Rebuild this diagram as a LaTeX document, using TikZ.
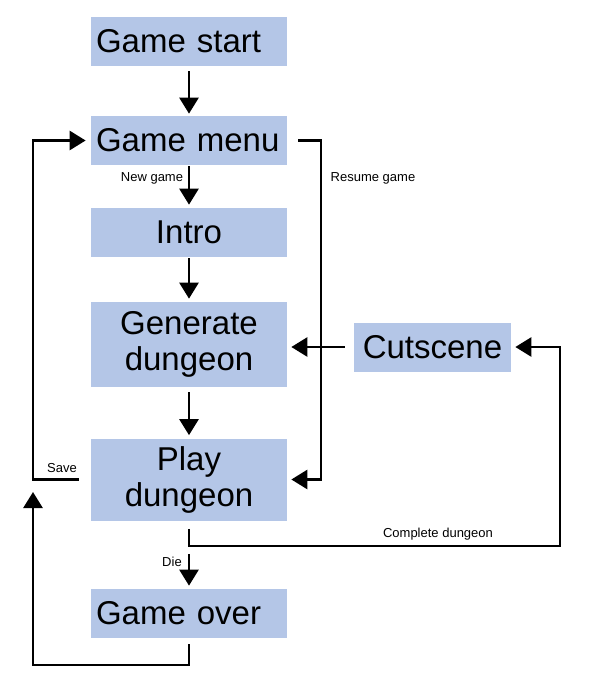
\documentclass[tikz,border=0pt]{standalone}
\usepackage{fontspec}
\setmainfont{Liberation Sans}
\usetikzlibrary{arrows.meta}
\definecolor{boxblue}{RGB}{180,198,231}
\begin{document}
\begin{tikzpicture}[x=1pt,y=-1pt,%
% common options for the boxes:
stage/.style = {fill=boxblue, align=center, minimum width=196pt,
            minimum height=49pt, inner sep=0, font=\fontsize{33}{36}\selectfont},
% boxes whose text starts at the left:
leftstage/.style = {stage, align=left, text width=186pt},
% common options for the small labels:
lbl/.style = {inner sep=0, font=\fontsize{13}{15}\selectfont},
>={Triangle[length=16pt,width=19pt]}, line width=2.7pt]
\useasboundingbox (0,0) rectangle (598,685);
\node[leftstage] (start) at (189,41.5) {Game start};
\node[leftstage] (menu) at (189,140.5) {Game menu};
\node[stage] (intro) at (189,232.5) {Intro};
\node[stage, minimum height=85pt] (gen) at (189,344.5) {Generate\\dungeon};
\node[stage, minimum height=82pt] (play) at (189,479.5) {Play\\dungeon};
\node[leftstage] (over) at (189,613.5) {Game over};
\node[stage, minimum width=157pt] (cut) at (432.5,347) {Cutscene};
\node[lbl] (newgame) at (152,178) {New game};
\node[lbl] (resume) at (373,178) {Resume game};
\node[lbl] (save) at (62,468) {Save};
\node[lbl] (complete) at (438,534) {Complete dungeon};
\node[lbl] (die) at (172,562) {Die};
% rails for the loops:
\coordinate (leftrail) at (33,0);
\coordinate (rightrail) at (321,0);
\coordinate (bend) at (560,546);
\coordinate (corner) at (33,665);
\coordinate (saveup) at (33,492);
\draw[->, shorten <=4pt, shorten >=1pt] (start) -- (menu);
\draw[->, shorten >=2pt] (menu) -- (intro);
\draw[->, shorten >=2pt] (intro) -- (gen);
\draw[->, shorten <=4pt, shorten >=2pt] (gen) -- (play);
\draw[->] ([xshift=-11pt]play.west) -| (leftrail |- menu.west) -- ([xshift=-4pt]menu.west);
\draw[->] ([xshift=10pt]menu.east) -| (rightrail |- play.east) -- ([xshift=3pt]play.east);
\draw[->] ([xshift=-8pt]cut.west) -- ([xshift=3pt]cut.west -| gen.east);
\draw[->] ([yshift=-7pt]play.south) |- (bend) |- ([xshift=3pt]cut.east);
\draw[->] ([yshift=-32pt]play.south) -- ([yshift=2pt]over.north);
\draw[->] ([yshift=-5pt]over.south) |- (corner) -- (saveup);
\end{tikzpicture}
\end{document}
